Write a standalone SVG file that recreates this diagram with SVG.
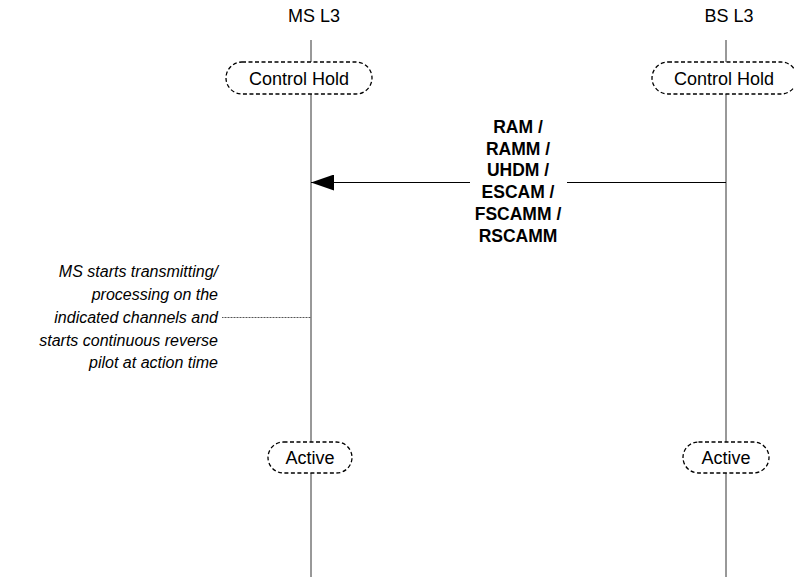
<svg xmlns="http://www.w3.org/2000/svg" width="794" height="577" viewBox="0 0 794 577">
<defs>
<style>
.life{stroke:#333;stroke-width:1;fill:none}
.state rect{fill:#fff;stroke:#000;stroke-width:1.3;stroke-dasharray:4,2.5}
.lbl{font-family:"Liberation Sans",Arial,sans-serif;font-size:18px;fill:#000;text-anchor:middle}
.msg{font-family:"Liberation Sans",Arial,sans-serif;font-size:17.5px;font-weight:bold;fill:#000;text-anchor:middle}
.note{font-family:"Liberation Sans",Arial,sans-serif;font-size:16px;font-style:italic;fill:#000;text-anchor:end}
</style>
<marker id="ah" markerWidth="24" markerHeight="16" refX="23" refY="8" orient="auto" markerUnits="userSpaceOnUse">
<path d="M0,0 L23,8 L0,16 Z" fill="#000"/>
</marker>
</defs>
<rect width="794" height="577" fill="#fff"/>
<g id="connectors">
<line class="life" x1="311" y1="40" x2="311" y2="577"/>
<line class="life" x1="726" y1="40" x2="726" y2="577"/>
<line x1="470" y1="182.5" x2="311" y2="182.5" stroke="#000" stroke-width="1" marker-end="url(#ah)"/>
<line x1="567" y1="182.5" x2="726" y2="182.5" stroke="#000" stroke-width="1"/>
<line x1="222" y1="317.5" x2="311" y2="317.5" stroke="#555" stroke-width="1" stroke-dasharray="1,0.5"/>
</g>
<g id="ms-title"><text class="lbl" x="314" y="22">MS L3</text></g>
<g id="bs-title"><text class="lbl" x="729" y="22">BS L3</text></g>
<g id="ms-control-hold" class="state">
<rect x="226" y="62" width="146" height="32" rx="16"/>
<text class="lbl" x="299" y="84.5">Control Hold</text>
</g>
<g id="bs-control-hold" class="state">
<rect x="652" y="62" width="145" height="32" rx="16"/>
<text class="lbl" x="724" y="84.5">Control Hold</text>
</g>
<g id="message">
<text class="msg" x="518" y="133">RAM /</text>
<text class="msg" x="518" y="155">RAMM /</text>
<text class="msg" x="518" y="176">UHDM /</text>
<text class="msg" x="518" y="198">ESCAM /</text>
<text class="msg" x="518" y="220">FSCAMM /</text>
<text class="msg" x="518" y="242">RSCAMM</text>
</g>
<g id="note">
<text class="note" x="218" y="277">MS starts transmitting/</text>
<text class="note" x="218" y="300">processing on the</text>
<text class="note" x="218" y="323">indicated channels and</text>
<text class="note" x="218" y="345.5">starts continuous reverse</text>
<text class="note" x="218" y="368">pilot at action time</text>
</g>
<g id="ms-active" class="state">
<rect x="268" y="442" width="84" height="31" rx="15.5"/>
<text class="lbl" x="310" y="464">Active</text>
</g>
<g id="bs-active" class="state">
<rect x="683" y="442" width="86" height="31" rx="15.5"/>
<text class="lbl" x="726" y="464">Active</text>
</g>
</svg>
